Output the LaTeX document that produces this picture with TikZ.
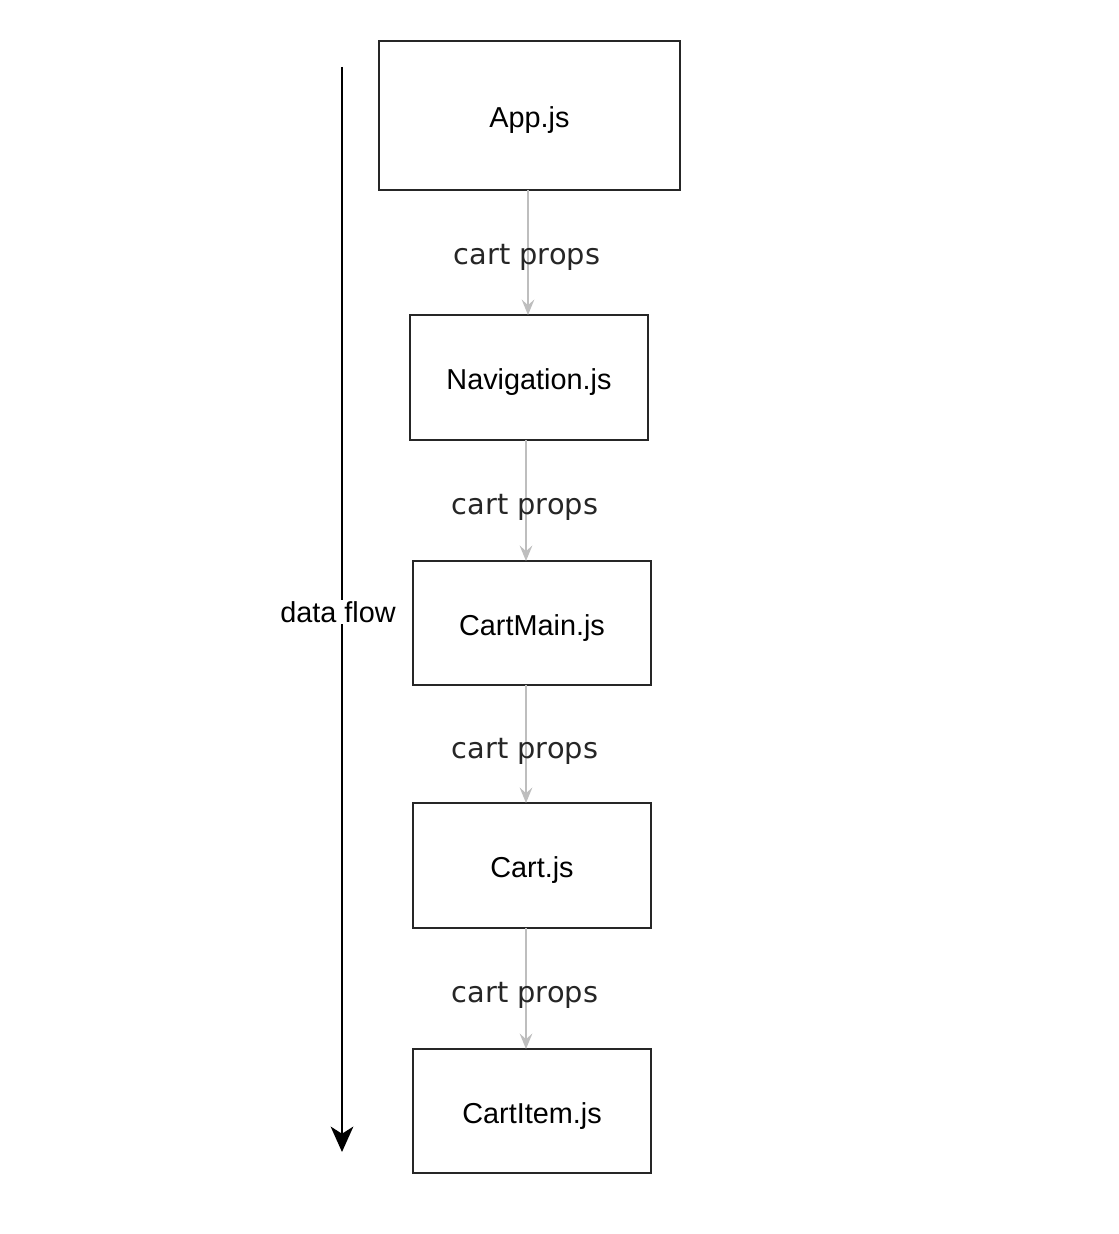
\documentclass[tikz,border=0pt]{standalone}
\usepackage{fontspec}
\setmainfont{Liberation Sans}
\newfontfamily\propsfont{DejaVu Sans}
\usetikzlibrary{arrows.meta}
\usetikzlibrary{calc}

\definecolor{propgray}{RGB}{190,190,190}

\tikzset{
  file/.style={draw=black!85, line width=1.4pt, fill=white, text height=21.5pt, font=\fontsize{20.5}{24}\selectfont},
  props/.style={font=\propsfont\fontsize{20.5}{24}\selectfont, text=black!85, text height=19pt},
  pass/.style={draw=propgray, line width=1.3pt, -{Stealth[length=11pt,width=9pt,inset=4pt]}},
}

\begin{document}
\begin{tikzpicture}[x=0.025cm, y=-0.025cm]
\useasboundingbox (0,0) rectangle (1118,1234);

\node[file, minimum width=301*0.025cm, minimum height=149*0.025cm] (app) at (529.5,115.5) {App.js};
\node[file, minimum width=238*0.025cm, minimum height=125*0.025cm] (nav) at (529,377.5) {Navigation.js};
\node[file, minimum width=238*0.025cm, minimum height=124*0.025cm] (main) at (532,623) {CartMain.js};
\node[file, minimum width=238*0.025cm, minimum height=125*0.025cm] (cart) at (532,865.5) {Cart.js};
\node[file, minimum width=238*0.025cm, minimum height=124*0.025cm] (item) at (532,1111) {CartItem.js};

\coordinate (a0) at (528,190);
\coordinate (n0) at (528,315);
\coordinate (n1) at (526,440);
\coordinate (m0) at (526,561);
\coordinate (m1) at (526,685);
\coordinate (c0) at (526,803);
\coordinate (c1) at (526,928);
\coordinate (i0) at (526,1049);

\draw[pass] (a0) -- (n0);
\draw[pass] (n1) -- (m0);
\draw[pass] (m1) -- (c0);
\draw[pass] (c1) -- (i0);

\node[props] (p0) at (527,254) {cart props};
\node[props] (p1) at (525,504) {cart props};
\node[props] (p2) at (525,748) {cart props};
\node[props] (p3) at (525,992) {cart props};

% data flow
\coordinate (top) at (342,67);
\coordinate (bottom) at (342,1152);
\draw[line width=2pt, -{Stealth[length=18pt,width=16pt,inset=5pt]}] (top) -- (bottom);
\node[fill=white, inner sep=1pt, font=\fontsize{20.5}{24}\selectfont] (flow) at (338,612) {data flow};
\end{tikzpicture}
\end{document}
